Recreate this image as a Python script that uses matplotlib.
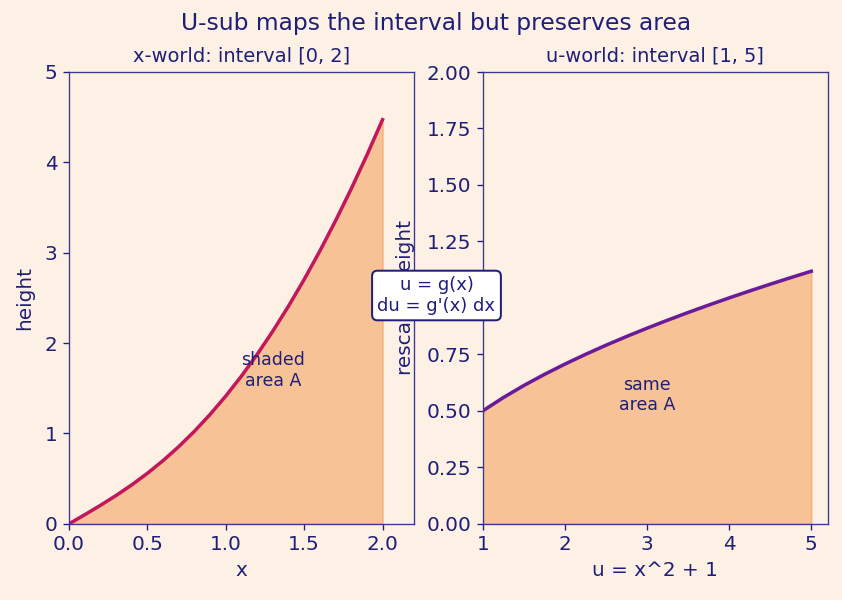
import matplotlib
matplotlib.use("Agg")
import matplotlib.pyplot as plt

# x-world: f(x) on [0, 2]
x_vals = [0.0, 0.1, 0.2, 0.3, 0.4, 0.5, 0.6, 0.7, 0.8, 0.9, 1.0,
          1.1, 1.2, 1.3, 1.4, 1.5, 1.6, 1.7, 1.8, 1.9, 2.0]
fx_vals = [0.0, 0.1005, 0.2040, 0.3132, 0.4308, 0.5590, 0.6997, 0.8544, 1.0245, 1.2108, 1.4142,
           1.6353, 1.8745, 2.1322, 2.4087, 2.7042, 3.0189, 3.3529, 3.7064, 4.0795, 4.4721]

# u-world: rescaled height on [1, 5]
u_vals = [1.0, 1.25, 1.5, 1.75, 2.0, 2.25, 2.5, 2.75, 3.0,
          3.25, 3.5, 3.75, 4.0, 4.25, 4.5, 4.75, 5.0]
gu_vals = [0.5, 0.5590, 0.6124, 0.6614, 0.7071, 0.75, 0.7906, 0.8292, 0.8660,
           0.9014, 0.9354, 0.9682, 1.0, 1.0308, 1.0607, 1.0897, 1.1180]

bg = '#fdf1e6'
ink = '#1f1f78'
fill_c = '#f4a460'

plt.rcParams['font.family'] = 'DejaVu Sans'
plt.rcParams['text.color'] = ink
plt.rcParams['axes.labelcolor'] = ink
plt.rcParams['xtick.color'] = ink
plt.rcParams['ytick.color'] = ink
plt.rcParams['axes.edgecolor'] = '#3a3a8c'

fig, (ax1, ax2) = plt.subplots(1, 2, figsize=(842/120, 5.0), dpi=120)
fig.patch.set_facecolor(bg)

# left panel
ax1.set_facecolor(bg)
ax1.fill_between(x_vals, 0, fx_vals, color=fill_c, alpha=0.6, linewidth=1)
ax1.plot(x_vals, fx_vals, color='#c2185b', lw=2.1)
ax1.set_xlim(0, 2.2)
ax1.set_ylim(0, 5)
ax1.set_xticks([0.0, 0.5, 1.0, 1.5, 2.0])
ax1.set_yticks([0, 1, 2, 3, 4, 5])
ax1.tick_params(labelsize=12)
ax1.set_xlabel('x', fontsize=12)
ax1.set_ylabel('height', fontsize=12, labelpad=6.5)
ax1.set_title('x-world: interval [0, 2]', fontsize=11.6, color=ink)
ax1.text(1.3, 1.7, 'shaded\narea A', ha='center', va='center', fontsize=10.4)

# right panel
ax2.set_facecolor(bg)
ax2.fill_between(u_vals, 0, gu_vals, color=fill_c, alpha=0.6, linewidth=1)
ax2.plot(u_vals, gu_vals, color='#6a1b9a', lw=2.1)
ax2.set_xlim(1, 5.2)
ax2.set_ylim(0, 2)
ax2.set_xticks([1, 2, 3, 4, 5])
ax2.set_yticks([0.0, 0.25, 0.5, 0.75, 1.0, 1.25, 1.5, 1.75, 2.0])
ax2.set_yticklabels(['0.00', '0.25', '0.50', '0.75', '1.00', '1.25', '1.50', '1.75', '2.00'])
ax2.tick_params(labelsize=12)
ax2.set_xlabel('u = x^2 + 1', fontsize=12)
ax2.set_ylabel('rescaled height', fontsize=12, labelpad=6.5)
ax2.set_title('u-world: interval [1, 5]', fontsize=11.6, color=ink)
ax2.text(3.0, 0.57, 'same\narea A', ha='center', va='center', fontsize=10.4)

fig.suptitle('U-sub maps the interval but preserves area', fontsize=14, color=ink,
             x=0.518, y=0.98)

fig.text(0.5184, 0.5075, "u = g(x)\ndu = g'(x) dx", ha='center', va='center', fontsize=10.8,
         bbox=dict(boxstyle='round,pad=0.3', facecolor='white', edgecolor=ink, linewidth=1.2))

plt.subplots_adjust(left=0.082, right=0.983, bottom=0.127, top=0.88, wspace=0.2)
plt.savefig('out.png', dpi=120, facecolor=bg)
